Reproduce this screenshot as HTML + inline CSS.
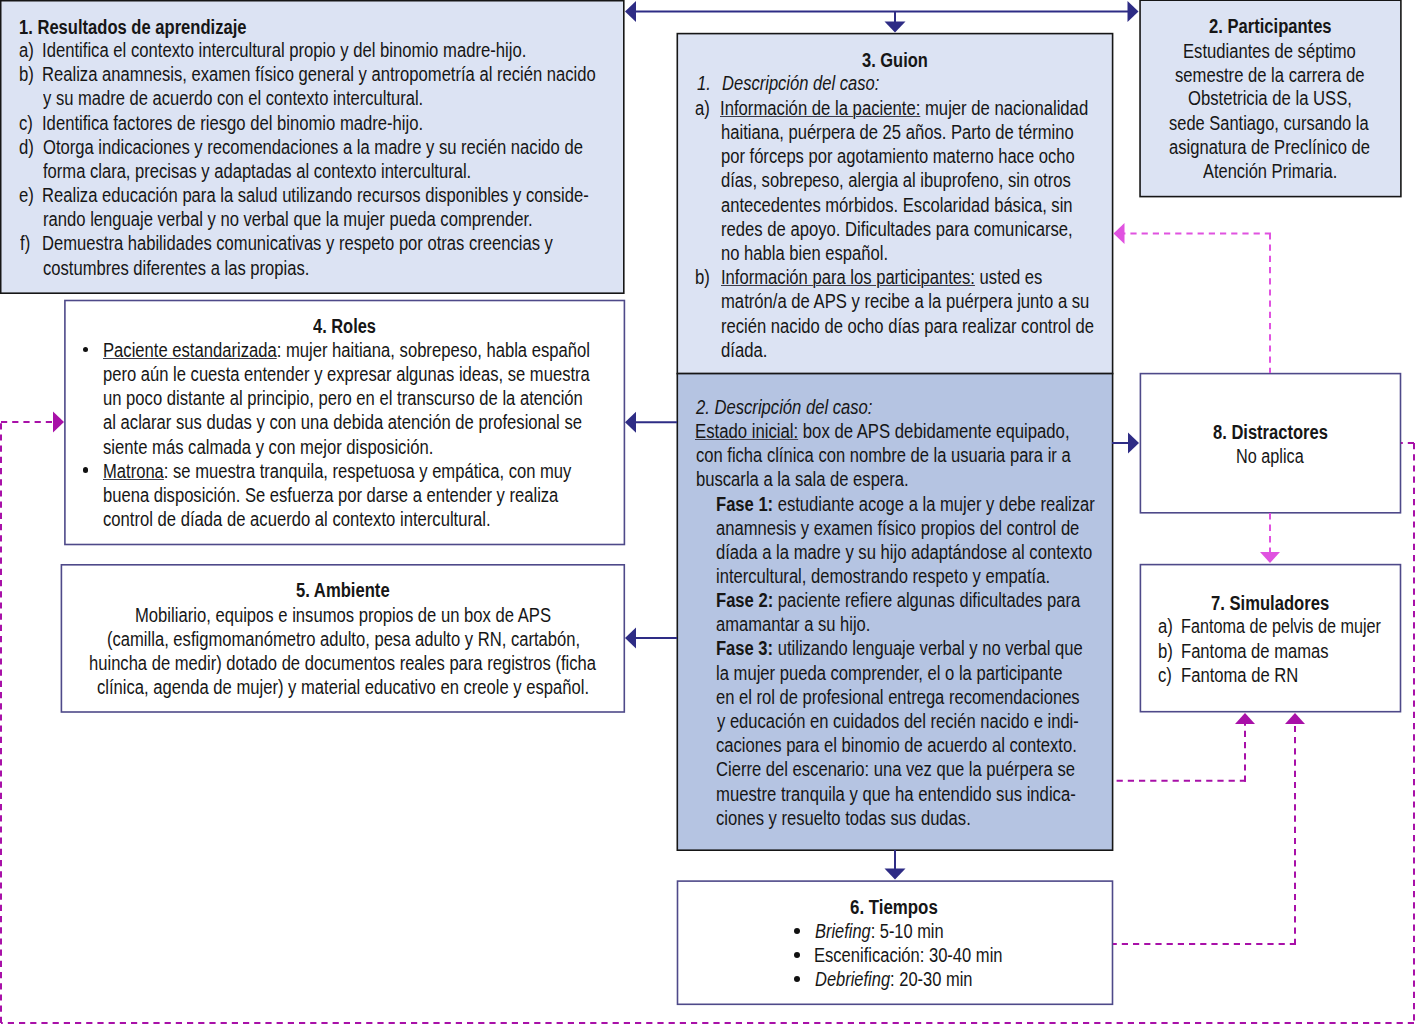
<!DOCTYPE html>
<html><head><meta charset="utf-8"><style>
html,body{margin:0;padding:0;background:#fff;width:1415px;height:1024px;overflow:hidden;position:relative}
svg{position:absolute;left:0;top:0}
.t{position:absolute;white-space:nowrap;font-family:"Liberation Sans",sans-serif;font-size:19.5px;line-height:30px;color:#161616;transform-origin:0 0}
u{text-decoration:underline;text-underline-offset:1px;text-decoration-thickness:1px;text-decoration-color:#3c3c48}
.dot{position:absolute;border-radius:50%;background:#111}
</style></head><body>
<svg width="1415" height="1024" viewBox="0 0 1415 1024">
<rect x="0.70" y="0.70" width="623.10" height="292.50" fill="#dce3f3" stroke="#161616" stroke-width="1.6"/>
<rect x="1140.05" y="0.20" width="260.85" height="196.40" fill="#dce3f3" stroke="#161616" stroke-width="1.6"/>
<rect x="677.30" y="33.60" width="435.30" height="340.00" fill="#dce3f3" stroke="#161616" stroke-width="1.6"/>
<rect x="677.30" y="373.60" width="435.30" height="476.60" fill="#b5c4e2" stroke="#161616" stroke-width="1.6"/>
<rect x="64.90" y="300.50" width="559.50" height="244.00" fill="#fff" stroke="#4e4989" stroke-width="1.6"/>
<rect x="61.40" y="564.80" width="562.90" height="147.20" fill="#fff" stroke="#4e4989" stroke-width="1.6"/>
<rect x="677.50" y="881.10" width="435.00" height="123.20" fill="#fff" stroke="#4e4989" stroke-width="1.6"/>
<rect x="1140.40" y="564.60" width="260.10" height="147.10" fill="#fff" stroke="#4e4989" stroke-width="1.6"/>
<rect x="1140.40" y="373.60" width="260.10" height="139.20" fill="#fff" stroke="#4e4989" stroke-width="1.6"/>
<polyline points="635,11.5 1129,11.5" fill="none" stroke="#2e2c85" stroke-width="2"/>
<polygon points="625.00,11.50 636.00,1.00 636.00,22.00" fill="#2e2c85"/>
<polygon points="1138.50,11.50 1127.50,1.00 1127.50,22.00" fill="#2e2c85"/>
<polyline points="895,11.5 895,23" fill="none" stroke="#2e2c85" stroke-width="2"/>
<polygon points="895.00,32.50 884.50,21.50 905.50,21.50" fill="#2e2c85"/>
<polyline points="677,422.2 635,422.2" fill="none" stroke="#2e2c85" stroke-width="2"/>
<polygon points="625.00,422.20 636.00,411.70 636.00,432.70" fill="#2e2c85"/>
<polyline points="677,638 635,638" fill="none" stroke="#2e2c85" stroke-width="2"/>
<polygon points="625.00,638.00 636.00,627.50 636.00,648.50" fill="#2e2c85"/>
<polyline points="1112,443 1129,443" fill="none" stroke="#2e2c85" stroke-width="2"/>
<polygon points="1139.00,443.00 1128.00,432.50 1128.00,453.50" fill="#2e2c85"/>
<polyline points="895,850 895,870" fill="none" stroke="#2e2c85" stroke-width="2"/>
<polygon points="895.00,879.50 884.50,868.50 905.50,868.50" fill="#2e2c85"/>
<polyline points="1270,233.4 1270,373" fill="none" stroke="#e052e0" stroke-width="2" stroke-dasharray="6.2 5"/>
<polyline points="1271,233.4 1123,233.4" fill="none" stroke="#e052e0" stroke-width="2" stroke-dasharray="6.2 5"/>
<polygon points="1113.50,233.40 1124.50,222.90 1124.50,243.90" fill="#e052e0"/>
<polyline points="1270,513 1270,553" fill="none" stroke="#e052e0" stroke-width="2" stroke-dasharray="6.5 5"/>
<polygon points="1270.00,563.00 1260.00,552.00 1280.00,552.00" fill="#e052e0"/>
<polyline points="1246,780.8 1113,780.8" fill="none" stroke="#a810a8" stroke-width="2" stroke-dasharray="6.2 5"/>
<polyline points="1245,781.8 1245,722" fill="none" stroke="#a810a8" stroke-width="2" stroke-dasharray="6.2 5"/>
<polygon points="1245.00,713.00 1235.00,724.00 1255.00,724.00" fill="#a810a8"/>
<polyline points="1296,943.9 1113,943.9" fill="none" stroke="#a810a8" stroke-width="2" stroke-dasharray="6.2 5"/>
<polyline points="1295,944.9 1295,722" fill="none" stroke="#a810a8" stroke-width="2" stroke-dasharray="6.2 5"/>
<polygon points="1295.00,713.00 1285.00,724.00 1305.00,724.00" fill="#a810a8"/>
<polyline points="1414,443 1401,443" fill="none" stroke="#a810a8" stroke-width="2" stroke-dasharray="6.2 5"/>
<polyline points="1414,443 1414,1023" fill="none" stroke="#a810a8" stroke-width="2" stroke-dasharray="6.2 5"/>
<polyline points="1414,1023 1,1023" fill="none" stroke="#a810a8" stroke-width="2" stroke-dasharray="6.2 5"/>
<polyline points="1,1023 1,422" fill="none" stroke="#a810a8" stroke-width="2" stroke-dasharray="6.2 5"/>
<polyline points="1,422 54,422" fill="none" stroke="#a810a8" stroke-width="2" stroke-dasharray="6.2 5"/>
<polygon points="64.00,422.00 53.00,411.50 53.00,432.50" fill="#a810a8"/>
</svg>
<div class="t" style="left:18.85px;top:11.80px;transform:scaleX(0.8500)"><b>1. Resultados de aprendizaje</b></div>
<div class="t" style="left:18.75px;top:34.70px;transform:scaleX(0.8550)">a)</div>
<div class="t" style="left:41.69px;top:34.70px;transform:scaleX(0.8544)">Identifica el contexto intercultural propio y del binomio madre-hijo.</div>
<div class="t" style="left:18.75px;top:59.20px;transform:scaleX(0.8550)">b)</div>
<div class="t" style="left:41.70px;top:59.20px;transform:scaleX(0.8515)">Realiza anamnesis, examen físico general y antropometría al recién nacido</div>
<div class="t" style="left:43.40px;top:83.20px;transform:scaleX(0.8493)">y su madre de acuerdo con el contexto intercultural.</div>
<div class="t" style="left:18.75px;top:107.50px;transform:scaleX(0.8550)">c)</div>
<div class="t" style="left:41.69px;top:107.50px;transform:scaleX(0.8535)">Identifica factores de riesgo del binomio madre-hijo.</div>
<div class="t" style="left:18.75px;top:131.70px;transform:scaleX(0.8550)">d)</div>
<div class="t" style="left:42.55px;top:131.70px;transform:scaleX(0.8514)">Otorga indicaciones y recomendaciones a la madre y su recién nacido de</div>
<div class="t" style="left:43.40px;top:156.00px;transform:scaleX(0.8496)">forma clara, precisas y adaptadas al contexto intercultural.</div>
<div class="t" style="left:18.75px;top:180.10px;transform:scaleX(0.8550)">e)</div>
<div class="t" style="left:41.70px;top:180.10px;transform:scaleX(0.8520)">Realiza educación para la salud utilizando recursos disponibles y conside-</div>
<div class="t" style="left:42.55px;top:204.30px;transform:scaleX(0.8524)">rando lenguaje verbal y no verbal que la mujer pueda comprender.</div>
<div class="t" style="left:19.60px;top:228.40px;transform:scaleX(0.8550)">f)</div>
<div class="t" style="left:41.70px;top:228.40px;transform:scaleX(0.8508)">Demuestra habilidades comunicativas y respeto por otras creencias y</div>
<div class="t" style="left:42.55px;top:252.60px;transform:scaleX(0.8502)">costumbres diferentes a las propias.</div>
<div class="t" style="left:1208.95px;top:11.10px;transform:scaleX(0.8504)"><b>2. Participantes</b></div>
<div class="t" style="left:1183.00px;top:36.00px;transform:scaleX(0.8525)">Estudiantes de séptimo</div>
<div class="t" style="left:1175.05px;top:59.70px;transform:scaleX(0.8527)">semestre de la carrera de</div>
<div class="t" style="left:1188.05px;top:83.40px;transform:scaleX(0.8545)">Obstetricia de la USS,</div>
<div class="t" style="left:1169.16px;top:107.70px;transform:scaleX(0.8449)">sede Santiago, cursando la</div>
<div class="t" style="left:1169.15px;top:131.90px;transform:scaleX(0.8506)">asignatura de Preclínico de</div>
<div class="t" style="left:1203.10px;top:155.60px;transform:scaleX(0.8430)">Atención Primaria.</div>
<div class="t" style="left:862.00px;top:44.75px;transform:scaleX(0.8442)"><b>3. Guion</b></div>
<div class="t" style="left:697.04px;top:68.30px;transform:scaleX(0.8550)"><i>1.</i></div>
<div class="t" style="left:722.05px;top:68.30px;transform:scaleX(0.8484)"><i>Descripción del caso:</i></div>
<div class="t" style="left:695.35px;top:92.70px;transform:scaleX(0.8550)">a)</div>
<div class="t" style="left:720.49px;top:92.70px;transform:scaleX(0.8555)"><u>Información de la paciente:</u> mujer de nacionalidad</div>
<div class="t" style="left:721.35px;top:116.90px;transform:scaleX(0.8517)">haitiana, puérpera de 25 años. Parto de término</div>
<div class="t" style="left:721.35px;top:141.10px;transform:scaleX(0.8496)">por fórceps por agotamiento materno hace ocho</div>
<div class="t" style="left:721.35px;top:165.30px;transform:scaleX(0.8513)">días, sobrepeso, alergia al ibuprofeno, sin otros</div>
<div class="t" style="left:721.35px;top:189.50px;transform:scaleX(0.8513)">antecedentes mórbidos. Escolaridad básica, sin</div>
<div class="t" style="left:721.35px;top:213.70px;transform:scaleX(0.8538)">redes de apoyo. Dificultades para comunicarse,</div>
<div class="t" style="left:721.35px;top:237.90px;transform:scaleX(0.8510)">no habla bien español.</div>
<div class="t" style="left:695.35px;top:262.10px;transform:scaleX(0.8550)">b)</div>
<div class="t" style="left:720.50px;top:262.10px;transform:scaleX(0.8520)"><u>Información para los participantes:</u> usted es</div>
<div class="t" style="left:721.35px;top:286.30px;transform:scaleX(0.8538)">matrón/a de APS y recibe a la puérpera junto a su</div>
<div class="t" style="left:721.35px;top:310.50px;transform:scaleX(0.8518)">recién nacido de ocho días para realizar control de</div>
<div class="t" style="left:721.34px;top:334.70px;transform:scaleX(0.8558)">díada.</div>
<div class="t" style="left:696.40px;top:391.50px;transform:scaleX(0.8524)"><i>2. Descripción del caso:</i></div>
<div class="t" style="left:694.69px;top:416.00px;transform:scaleX(0.8573)"><u>Estado inicial:</u> box de APS debidamente equipado,</div>
<div class="t" style="left:695.55px;top:440.20px;transform:scaleX(0.8493)">con ficha clínica con nombre de la usuaria para ir a</div>
<div class="t" style="left:695.55px;top:464.40px;transform:scaleX(0.8526)">buscarla a la sala de espera.</div>
<div class="t" style="left:716.25px;top:488.60px;transform:scaleX(0.8502)"><b>Fase 1:</b> estudiante acoge a la mujer y debe realizar</div>
<div class="t" style="left:716.25px;top:512.80px;transform:scaleX(0.8508)">anamnesis y examen físico propios del control de</div>
<div class="t" style="left:716.25px;top:537.00px;transform:scaleX(0.8526)">díada a la madre y su hijo adaptándose al contexto</div>
<div class="t" style="left:716.25px;top:561.20px;transform:scaleX(0.8513)">intercultural, demostrando respeto y empatía.</div>
<div class="t" style="left:716.25px;top:585.40px;transform:scaleX(0.8506)"><b>Fase 2:</b> paciente refiere algunas dificultades para</div>
<div class="t" style="left:716.25px;top:609.20px;transform:scaleX(0.8478)">amamantar a su hijo.</div>
<div class="t" style="left:716.25px;top:633.40px;transform:scaleX(0.8498)"><b>Fase 3:</b> utilizando lenguaje verbal y no verbal que</div>
<div class="t" style="left:716.25px;top:657.60px;transform:scaleX(0.8521)">la mujer pueda comprender, el o la participante</div>
<div class="t" style="left:716.25px;top:681.80px;transform:scaleX(0.8492)">en el rol de profesional entrega recomendaciones</div>
<div class="t" style="left:717.10px;top:706.00px;transform:scaleX(0.8492)">y educación en cuidados del recién nacido e indi-</div>
<div class="t" style="left:716.25px;top:730.20px;transform:scaleX(0.8513)">caciones para el binomio de acuerdo al contexto.</div>
<div class="t" style="left:716.25px;top:754.40px;transform:scaleX(0.8512)">Cierre del escenario: una vez que la puérpera se</div>
<div class="t" style="left:716.24px;top:778.60px;transform:scaleX(0.8554)">muestre tranquila y que ha entendido sus indica-</div>
<div class="t" style="left:716.25px;top:802.80px;transform:scaleX(0.8515)">ciones y resuelto todas sus dudas.</div>
<div class="t" style="left:312.60px;top:311.20px;transform:scaleX(0.8419)"><b>4. Roles</b></div>
<div class="t" style="left:102.80px;top:335.10px;transform:scaleX(0.8523)"><u>Paciente estandarizada</u>: mujer haitiana, sobrepeso, habla español</div>
<div class="t" style="left:102.65px;top:359.20px;transform:scaleX(0.8505)">pero aún le cuesta entender y expresar algunas ideas, se muestra</div>
<div class="t" style="left:102.65px;top:383.30px;transform:scaleX(0.8529)">un poco distante al principio, pero en el transcurso de la atención</div>
<div class="t" style="left:102.65px;top:407.40px;transform:scaleX(0.8530)">al aclarar sus dudas y con una debida atención de profesional se</div>
<div class="t" style="left:102.65px;top:431.50px;transform:scaleX(0.8536)">siente más calmada y con mejor disposición.</div>
<div class="t" style="left:102.80px;top:455.60px;transform:scaleX(0.8506)"><u>Matrona</u>: se muestra tranquila, respetuosa y empática, con muy</div>
<div class="t" style="left:102.65px;top:479.70px;transform:scaleX(0.8503)">buena disposición. Se esfuerza por darse a entender y realiza</div>
<div class="t" style="left:102.65px;top:503.80px;transform:scaleX(0.8533)">control de díada de acuerdo al contexto intercultural.</div>
<div class="t" style="left:295.55px;top:574.80px;transform:scaleX(0.8528)"><b>5. Ambiente</b></div>
<div class="t" style="left:135.19px;top:599.70px;transform:scaleX(0.8528)">Mobiliario, equipos e insumos propios de un box de APS</div>
<div class="t" style="left:106.75px;top:623.80px;transform:scaleX(0.8508)">(camilla, esfigmomanómetro adulto, pesa adulto y RN, cartabón,</div>
<div class="t" style="left:89.15px;top:647.90px;transform:scaleX(0.8503)">huincha de medir) dotado de documentos reales para registros (ficha</div>
<div class="t" style="left:97.15px;top:672.00px;transform:scaleX(0.8517)">clínica, agenda de mujer) y material educativo en creole y español.</div>
<div class="t" style="left:1212.65px;top:416.60px;transform:scaleX(0.8478)"><b>8. Distractores</b></div>
<div class="t" style="left:1235.84px;top:441.00px;transform:scaleX(0.8325)">No aplica</div>
<div class="t" style="left:1211.15px;top:587.80px;transform:scaleX(0.8518)"><b>7. Simuladores</b></div>
<div class="t" style="left:1157.54px;top:611.00px;transform:scaleX(0.8550)">a)</div>
<div class="t" style="left:1180.64px;top:611.00px;transform:scaleX(0.8311)">Fantoma de pelvis de mujer</div>
<div class="t" style="left:1157.54px;top:635.60px;transform:scaleX(0.8550)">b)</div>
<div class="t" style="left:1180.60px;top:635.60px;transform:scaleX(0.8509)">Fantoma de mamas</div>
<div class="t" style="left:1157.54px;top:659.70px;transform:scaleX(0.8550)">c)</div>
<div class="t" style="left:1180.60px;top:659.70px;transform:scaleX(0.8522)">Fantoma de RN</div>
<div class="t" style="left:850.13px;top:891.90px;transform:scaleX(0.8650)"><b>6. Tiempos</b></div>
<div class="t" style="left:814.86px;top:915.50px;transform:scaleX(0.8417)"><i>Briefing</i>: 5-10 min</div>
<div class="t" style="left:814.00px;top:939.50px;transform:scaleX(0.8484)">Escenificación: 30-40 min</div>
<div class="t" style="left:814.86px;top:963.50px;transform:scaleX(0.8446)"><i>Debriefing</i>: 20-30 min</div>
<div class="dot" style="left:82.70px;top:346.70px;width:5.6px;height:5.6px"></div>
<div class="dot" style="left:82.70px;top:467.20px;width:5.6px;height:5.6px"></div>
<div class="dot" style="left:793.80px;top:927.50px;width:6.0px;height:6.0px"></div>
<div class="dot" style="left:793.80px;top:951.60px;width:6.0px;height:6.0px"></div>
<div class="dot" style="left:793.80px;top:975.70px;width:6.0px;height:6.0px"></div>
</body></html>
